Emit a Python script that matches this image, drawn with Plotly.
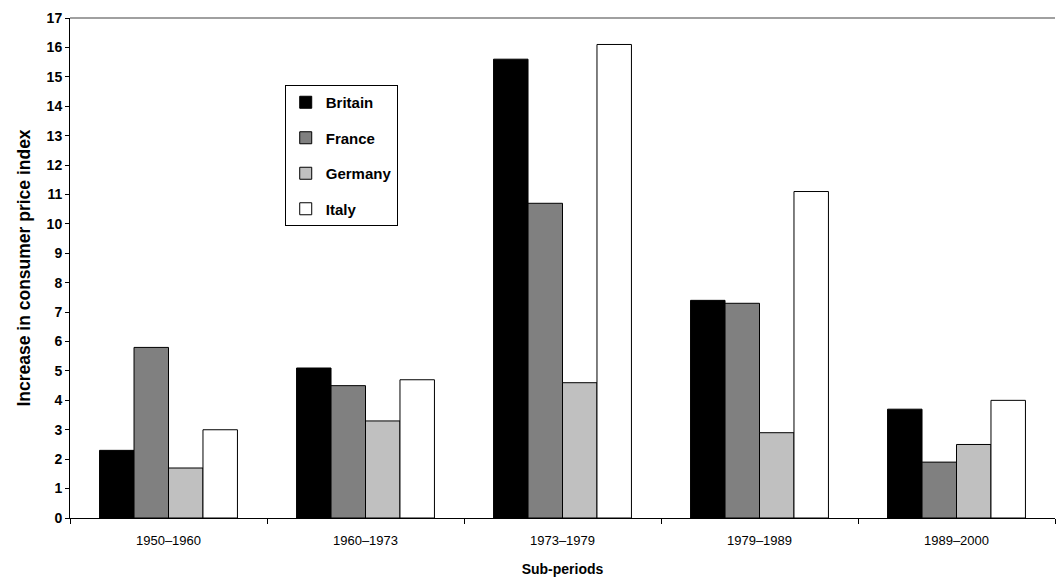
import plotly.graph_objects as go

periods = ["1950\u20131960", "1960\u20131973", "1973\u20131979", "1979\u20131989", "1989\u20132000"]
britain = [2.3, 5.1, 15.6, 7.4, 3.7]
france = [5.8, 4.5, 10.7, 7.3, 1.9]
germany = [1.7, 3.3, 4.6, 2.9, 2.5]
italy = [3.0, 4.7, 16.1, 11.1, 4.0]

series = [("Britain", britain, "#000000"), ("France", france, "#808080"),
          ("Germany", germany, "#C0C0C0"), ("Italy", italy, "#FFFFFF")]

FONT = "Arial, Liberation Sans, sans-serif"
fig = go.Figure()
for name, vals, col in series:
    fig.add_trace(go.Bar(x=periods, y=vals, name=name, legendgroup=name,
                         marker=dict(color=col, line=dict(color="#000000", width=1))))

fig.update_layout(
    width=1056, height=579,
    margin=dict(l=70, r=1, t=18, b=61),
    paper_bgcolor="white", plot_bgcolor="white",
    barmode="group", bargap=0.3, bargroupgap=0,
    font=dict(family=FONT, color="#000000"),
    legend=dict(x=0.218, y=0.866, xanchor="left", yanchor="top",
                bordercolor="#000000", borderwidth=1, bgcolor="white",
                font=dict(size=15, family=FONT, weight="bold"),
                tracegroupgap=13, itemwidth=30),
    xaxis=dict(showline=True, linecolor="#000000", linewidth=1,
               ticks="outside", ticklen=5, tickcolor="#000000", tickson="boundaries",
               tickfont=dict(size=13), ticklabelstandoff=10,
               title=dict(text="<b>Sub-periods</b>", font=dict(size=14), standoff=17)),
    yaxis=dict(range=[0, 17], dtick=1, showgrid=False, zeroline=False,
               showline=True, linecolor="#000000", linewidth=1,
               ticks="outside", ticklen=4, tickcolor="#000000",
               tickfont=dict(size=14, weight="bold"),
               title=dict(text="<b>Increase in consumer price index</b>", font=dict(size=17.5), standoff=11)),
    shapes=[dict(type="line", xref="paper", yref="paper", x0=0, x1=1, y0=1, y1=1,
                 line=dict(color="#808080", width=1.5))],
)

fig.write_html("out.html")
